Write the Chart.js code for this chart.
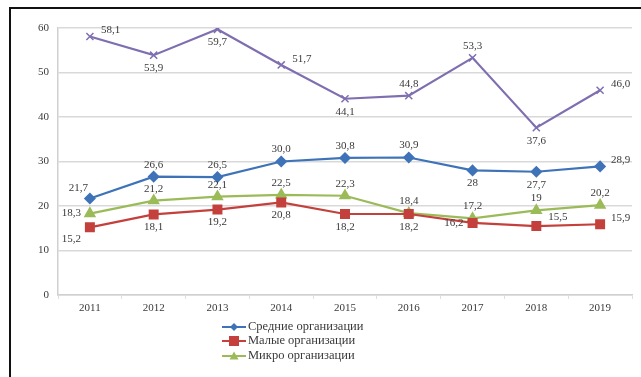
<!DOCTYPE html>
<html>
<head>
  <script src="https://cdnjs.cloudflare.com/ajax/libs/Chart.js/4.4.1/chart.umd.min.js"></script>
  <style>
    body { margin: 0; background: #fff; }
    #wrap { position: relative; width: 641px; height: 377px; }
  </style>
</head>
<body>
  <div id="wrap"><canvas id="orgChart" width="641" height="377"></canvas></div>

  <script>
    const years = ['2011', '2012', '2013', '2014', '2015', '2016', '2017', '2018', '2019'];
    const yTicks = [0, 10, 20, 30, 40, 50, 60];

    const medium = [21.7, 26.6, 26.5, 30.0, 30.8, 30.9, 28, 27.7, 28.9];
    const small = [15.2, 18.1, 19.2, 20.8, 18.2, 18.2, 16.2, 15.5, 15.9];
    const micro = [18.3, 21.2, 22.1, 22.5, 22.3, 18.4, 17.2, 19, 20.2];
    const large = [58.1, 53.9, 59.7, 51.7, 44.1, 44.8, 53.3, 37.6, 46.0];

    // where each value label sits relative to its point
    const mediumPos = ['tl', 't', 't', 't', 't', 't', 'b', 'b', 'r'];
    const smallPos = ['bl', 'b', 'b', 'b', 'b', 'b', 'l', 'tr', 'r'];
    const microPos = ['l', 't', 't', 't', 't', 't', 't', 't', 't'];
    const largePos = ['r', 'b', 'b', 'r', 'b', 't', 't', 'b', 'r'];

    const fmt = v => (Number.isInteger(v) && v !== 30 && v !== 46 ? String(v) : v.toFixed(1)).replace('.', ',');

    const FONT = '"Liberation Serif", "DejaVu Serif", serif';
    const TEXT = '#3a3a3a';

    const valueLabels = {
      id: 'valueLabels',
      afterDatasetsDraw(chart) {
        const ctx = chart.ctx;
        ctx.save();
        ctx.font = '11px ' + FONT;
        ctx.fillStyle = TEXT;
        chart.data.datasets.forEach((ds, i) => {
          const meta = chart.getDatasetMeta(i);
          meta.data.forEach((pt, j) => {
            const pos = ds.labelPos[j];
            let x = pt.x, y = pt.y, align = 'center';
            if (pos === 't') { y -= 12; }
            else if (pos === 'b') { y += 13; }
            else if (pos === 'r') { x += 11; y -= 6; align = 'left'; }
            else if (pos === 'l') { x -= 9; align = 'right'; }
            else if (pos === 'tl') { x -= 2; y -= 10; align = 'right'; }
            else if (pos === 'bl') { x -= 9; y += 12; align = 'right'; }
            else if (pos === 'tr') { x += 12; y -= 9; align = 'left'; }
            ctx.textAlign = align;
            ctx.textBaseline = 'middle';
            ctx.fillText(fmt(ds.data[j]), x, y);
          });
        });
        ctx.restore();
      }
    };

    function marker(ctx, style, x, y, r, color) {
      ctx.fillStyle = color;
      ctx.beginPath();
      if (style === 'rect') {
        ctx.rect(x - r, y - r, 2 * r, 2 * r);
      } else if (style === 'rectRot') {
        ctx.moveTo(x, y - r); ctx.lineTo(x + r, y); ctx.lineTo(x, y + r); ctx.lineTo(x - r, y);
        ctx.closePath();
      } else if (style === 'triangle') {
        ctx.moveTo(x, y - r); ctx.lineTo(x + r, y + r * 0.8); ctx.lineTo(x - r, y + r * 0.8);
        ctx.closePath();
      }
      ctx.fill();
    }

    // frame lines and the legend under the axis
    const frame = {
      id: 'frame',
      beforeDraw(chart) {
        const ctx = chart.ctx;
        ctx.save();
        ctx.fillStyle = '#fff';
        ctx.fillRect(0, 0, chart.width, chart.height);
        ctx.fillStyle = '#111';
        ctx.fillRect(9, 7, chart.width - 9, 2);
        ctx.fillRect(9, 7, 2, chart.height - 7);
        ctx.restore();
      },
      afterDraw(chart) {
        const ctx = chart.ctx;
        ctx.save();
        const rows = [327, 341, 356];
        chart.data.datasets.filter(d => d.inLegend).forEach((ds, k) => {
          const y = rows[k];
          ctx.strokeStyle = ds.borderColor;
          ctx.lineWidth = 2;
          ctx.beginPath();
          ctx.moveTo(222, y); ctx.lineTo(246, y); ctx.stroke();
          marker(ctx, ds.pointStyle, 234, y, ds.pointRadius - 0.5, ds.borderColor);
          ctx.font = '12.5px ' + FONT;
          ctx.fillStyle = TEXT;
          ctx.textAlign = 'left';
          ctx.textBaseline = 'middle';
          ctx.fillText(ds.label, 248, y);
        });
        ctx.restore();
      }
    };

    new Chart(document.getElementById('orgChart'), {
      type: 'line',
      data: {
        labels: years,
        datasets: [
          { label: 'Средние организации', data: medium, labelPos: mediumPos, inLegend: true,
            borderColor: '#3f73b8', backgroundColor: '#3f73b8', pointStyle: 'rectRot', pointRadius: 4.5 },
          { label: 'Малые организации', data: small, labelPos: smallPos, inLegend: true,
            borderColor: '#c4403c', backgroundColor: '#c4403c', pointStyle: 'rect', pointRadius: 5.5 },
          { label: 'Микро организации', data: micro, labelPos: microPos, inLegend: true,
            borderColor: '#9bbb59', backgroundColor: '#9bbb59', pointStyle: 'triangle', pointRadius: 5 },
          { label: 'Крупные организации', data: large, labelPos: largePos, inLegend: false,
            borderColor: '#7f6fb0', backgroundColor: '#7f6fb0', pointStyle: 'crossRot', pointRadius: 5,
            pointBorderWidth: 1.5 }
        ].map(d => Object.assign({ borderWidth: 2.2, tension: 0, fill: false }, d))
      },
      options: {
        responsive: false,
        animation: false,
        layout: { padding: { left: 10, right: 9, top: 28, bottom: 60 } },
        plugins: { legend: { display: false }, tooltip: { enabled: false } },
        scales: {
          x: {
            offset: true,
            grid: { display: true, drawOnChartArea: false, offset: true, tickLength: 4, color: '#dedede' },
            border: { color: '#d0d0d0', width: 1.5 },
            ticks: { font: { family: FONT, size: 11 }, color: TEXT, padding: 3 },
            afterFit(s) { s.height = 22; }
          },
          y: {
            min: 0, max: 60,
            afterBuildTicks(s) { s.ticks = yTicks.map(v => ({ value: v })); },
            grid: { color: '#d9d9d9', lineWidth: 1.5, drawTicks: false },
            border: { color: '#d0d0d0', width: 1.5 },
            ticks: { font: { family: FONT, size: 11 }, color: TEXT, padding: 9 },
            afterFit(s) { s.width = 48; }
          }
        }
      },
      plugins: [frame, valueLabels]
    });
  </script>
</body>
</html>
